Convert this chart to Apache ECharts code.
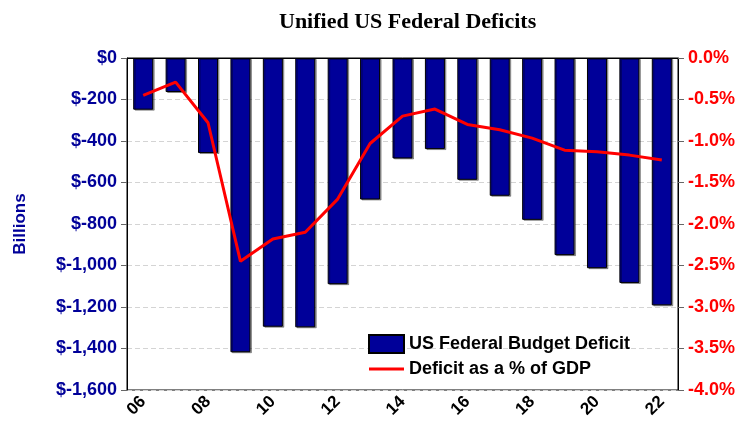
<!DOCTYPE html>
<html>
<head>
<meta charset="utf-8">
<script src="https://cdn.jsdelivr.net/npm/echarts@6/dist/echarts.min.js"></script>
<style>
html,body{margin:0;padding:0;background:#fff;}
#chart{width:747px;height:423px;}
</style>
</head>
<body>
<div id="chart"></div>
<script>
const categories = ['06','07','08','09','10','11','12','13','14','15','16','17','18','19','20','21','22'];
const deficitBillions = [-249,-164,-458,-1418,-1295,-1298,-1090,-682,-484,-439,-587,-664,-780,-950,-1013,-1084,-1192];
const deficitPctGDP = [-0.45,-0.29,-0.78,-2.45,-2.18,-2.10,-1.70,-1.03,-0.70,-0.615,-0.80,-0.865,-0.965,-1.11,-1.13,-1.17,-1.23];

const chart = echarts.init(document.getElementById('chart'));
const blue = '#000099';
const red = '#ff0000';
function dollar(v){
  if (v === 0) return '$0';
  const a = Math.abs(v).toLocaleString('en-US');
  return '$' + (v < 0 ? '-' : '') + a;
}
chart.setOption({
  animation:false,
  backgroundColor:'#fff',
  title:{
    text:'Unified US Federal Deficits',
    left:274, top:6,
    textStyle:{fontFamily:'Liberation Serif', fontWeight:'bold', fontSize:22, color:'#000'}
  },
  grid:{left:127, right:69, top:58, bottom:33, show:true, borderColor:'#000', borderWidth:1, backgroundColor:'transparent'},
  legend:{
    orient:'vertical', left:363, top:329, itemGap:6,
    itemWidth:35, itemHeight:18,
    textStyle:{fontFamily:'Liberation Sans', fontWeight:'bold', fontSize:18, color:'#000'},
    data:[
      {name:'US Federal Budget Deficit', icon:'rect'},
      {name:'Deficit as a % of GDP', icon:'path://M0,0 M0,7.5 L35,7.5 L35,10.5 L0,10.5 Z M35,18', itemStyle:{color:red, borderWidth:0}}
    ]
  },
  xAxis:{
    type:'category', data:categories, boundaryGap:true,
    axisLine:{lineStyle:{color:'#000', width:1}},
    axisTick:{show:false},
    axisLabel:{interval:1, rotate:45, margin:9, fontFamily:'Liberation Sans', fontWeight:'bold', fontSize:17, color:'#000'}
  },
  yAxis:[
    {
      type:'value', min:-1600, max:0, interval:200, position:'left',
      name:'Billions', nameLocation:'middle', nameGap:98, nameRotate:90,
      nameTextStyle:{fontFamily:'Liberation Sans', fontWeight:'bold', fontSize:17, color:blue},
      axisLine:{show:true, lineStyle:{color:'#000', width:1}},
      axisTick:{show:true, length:6, lineStyle:{color:'#666'}},
      axisLabel:{formatter:dollar, margin:10, fontFamily:'Liberation Sans', fontWeight:'bold', fontSize:18, color:blue},
      splitLine:{show:true, lineStyle:{color:'#d4d4d4', type:[5,3]}}
    },
    {
      type:'value', min:-4, max:0, interval:0.5, position:'right',
      axisLine:{show:true, lineStyle:{color:'#000', width:1}},
      axisTick:{show:true, length:6, lineStyle:{color:'#666'}},
      axisLabel:{formatter:v=>v.toFixed(1)+'%', margin:10, fontFamily:'Liberation Sans', fontWeight:'bold', fontSize:18, color:red},
      splitLine:{show:false}
    }
  ],
  series:[
    {
      name:'US Federal Budget Deficit', type:'bar', yAxisIndex:0, data:deficitBillions,
      barWidth:20,
      itemStyle:{color:blue, borderColor:'#000', borderWidth:1, shadowColor:'rgba(0,0,0,0.35)', shadowOffsetX:1.5, shadowOffsetY:1, shadowBlur:0}
    },
    {
      name:'Deficit as a % of GDP', type:'line', yAxisIndex:1, data:deficitPctGDP,
      symbol:'none', lineStyle:{color:red, width:3}, itemStyle:{color:red}, z:5
    }
  ]
});
</script>
</body>
</html>
